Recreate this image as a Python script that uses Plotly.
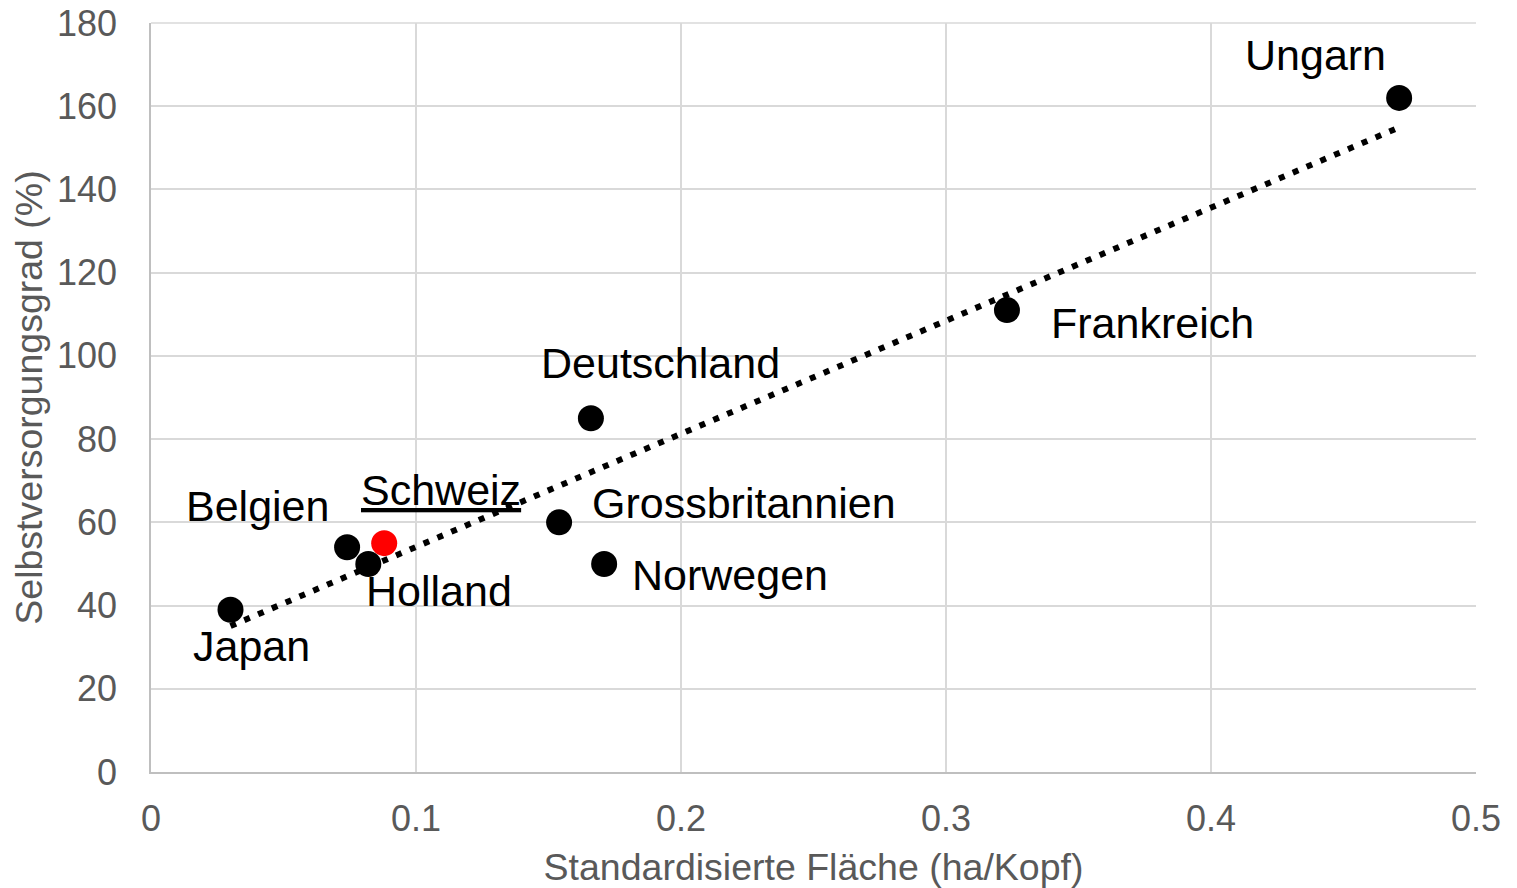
import numpy as np
import plotly.graph_objects as go

# Data
countries = ["Japan", "Belgien", "Holland", "Schweiz", "Grossbritannien",
             "Deutschland", "Norwegen", "Frankreich", "Ungarn"]
flaeche = [0.030, 0.074, 0.082, 0.088, 0.154, 0.166, 0.171, 0.323, 0.471]
selbstversorgung = [39, 54, 50, 55, 60, 85, 50, 111, 162]
x_ticks = [0, 0.1, 0.2, 0.3, 0.4, 0.5]
x_tick_labels = ["0", "0.1", "0.2", "0.3", "0.4", "0.5"]
y_ticks = [0, 20, 40, 60, 80, 100, 120, 140, 160, 180]

# label placement (pixel offsets, anchors) - styling only
label_style = {
    "Japan": dict(xshift=21, yshift=-36, xanchor="center"),
    "Belgien": dict(xshift=-16, yshift=41, xanchor="right"),
    "Holland": dict(xshift=-4, yshift=-27, xanchor="left"),
    "Schweiz": dict(xshift=-25, yshift=53, xanchor="left"),
    "Grossbritannien": dict(xshift=31, yshift=19, xanchor="left"),
    "Deutschland": dict(xshift=70, yshift=55, xanchor="center"),
    "Norwegen": dict(xshift=26, yshift=-11, xanchor="left"),
    "Frankreich": dict(xshift=42, yshift=-13, xanchor="left"),
    "Ungarn": dict(xshift=-84, yshift=43, xanchor="center"),
}

xs = np.array(flaeche)
ys = np.array(selbstversorgung)
slope, intercept = np.polyfit(xs, ys, 1)
trend_x = [xs.min(), xs.max()]
trend_y = [slope * v + intercept for v in trend_x]

colors = ["red" if c == "Schweiz" else "black" for c in countries]

fig = go.Figure()
fig.add_trace(go.Scatter(
    x=trend_x, y=trend_y, mode="lines",
    line=dict(color="black", width=6, dash="6px,9px"),
    hoverinfo="skip", showlegend=False))
fig.add_trace(go.Scatter(
    x=flaeche, y=selbstversorgung, mode="markers",
    marker=dict(color=colors, size=26, line=dict(width=0)),
    text=countries, showlegend=False))

for c, xv, yv in zip(countries, flaeche, selbstversorgung):
    st = label_style[c]
    txt = "<u>" + c + "</u>" if c == "Schweiz" else c
    fig.add_annotation(x=xv, y=yv, text=txt, showarrow=False,
                       xshift=st["xshift"], yshift=st["yshift"],
                       xanchor=st["xanchor"], yanchor="middle",
                       font=dict(family="Liberation Sans, Arial", size=43, color="black"))

# top border line (gridline colour)
fig.add_shape(type="line", xref="paper", yref="paper", x0=0, x1=1, y0=1, y1=1,
              line=dict(color="#d9d9d9", width=1.5), layer="below")

fig.update_layout(
    width=1509, height=880,
    margin=dict(l=143, r=41, t=15, b=116),
    plot_bgcolor="white", paper_bgcolor="white",
    font=dict(family="Liberation Sans, Arial", color="#595959"),
)
fig.update_xaxes(
    range=[0, 0.5], tickvals=x_ticks, ticktext=x_tick_labels, automargin=False,
    showgrid=True, gridcolor="#d9d9d9", gridwidth=1.5,
    showline=True, linecolor="#bfbfbf", linewidth=1.5, zeroline=False,
    tickfont=dict(size=36, color="#595959"), ticks="", ticklabelstandoff=14,
    ticklabeloverflow="allow",
    title=dict(text="Standardisierte Fläche (ha/Kopf)", font=dict(size=37.5, color="#595959"), standoff=17),
)
fig.update_yaxes(
    range=[0, 180], tickvals=y_ticks, automargin=False,
    showgrid=True, gridcolor="#d9d9d9", gridwidth=1.5,
    showline=True, linecolor="#bfbfbf", linewidth=1.5, zeroline=False,
    tickfont=dict(size=36, color="#595959"), ticks="", ticklabelstandoff=25,
    ticklabeloverflow="allow",
    title=dict(text="Selbstversorgungsgrad (%)", font=dict(size=37.5, color="#595959"), standoff=12),
)

fig.write_html("out.html")
